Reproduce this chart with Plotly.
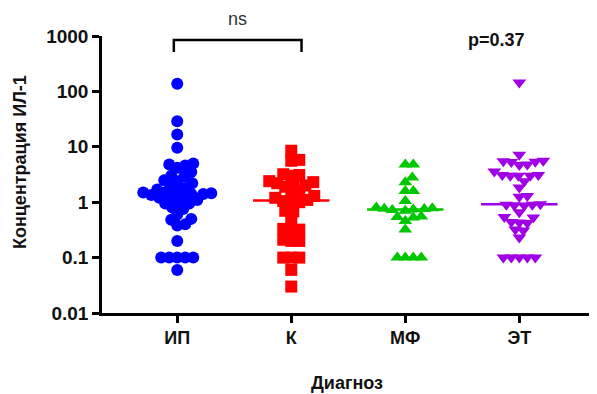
import numpy as np
import plotly.graph_objects as go

categories = ["ИП", "К", "МФ", "ЭТ"]
vals_ip = [137, 29, 16.6, 9.6, 5.0, 4.8, 4.6, 4.2, 3.5, 3.0, 2.9, 2.5, 2.4, 2.2, 2.0,
           1.8, 1.7, 1.6, 1.5, 1.5, 1.45, 1.4, 1.4, 1.35, 1.3, 1.2, 1.2, 1.1, 1.0, 0.95,
           0.95, 0.8, 0.75, 0.6, 0.5, 0.48, 0.4, 0.38, 0.2, 0.1, 0.1, 0.1, 0.1, 0.1, 0.06]
vals_k = [8.5, 5.8, 5.6, 3.2, 3.1, 3.0, 2.4, 2.3, 2.2, 2.1, 2.0, 1.9, 1.6, 1.5,
          1.3, 1.2, 1.1, 1.05, 1.0, 1.0, 0.7, 0.68, 0.49, 0.33, 0.32, 0.31,
          0.21, 0.2, 0.2, 0.1, 0.1, 0.1, 0.06, 0.03]
vals_mf = [4.8, 4.8, 2.8, 2.3, 1.6, 1.6, 1.05, 0.8, 0.78, 0.76, 0.75, 0.74, 0.72,
           0.7, 0.55, 0.54, 0.53, 0.46, 0.32, 0.1, 0.1, 0.1, 0.1]
vals_et = [145, 7.2, 5.6, 5.5, 5.4, 5.3, 4.8, 4.7, 3.6, 3.1, 3.1, 3.0, 3.0, 3.0, 2.4,
           1.85, 1.3, 1.25, 0.92, 0.9, 0.9, 0.88, 0.87, 0.66, 0.54, 0.53, 0.44, 0.43,
           0.42, 0.32, 0.31, 0.23, 0.1, 0.1, 0.1, 0.1, 0.1]
groups = [vals_ip, vals_k, vals_mf, vals_et]
colors = ["#0000FF", "#FF0000", "#00C800", "#A000E6"]
symbols = ["circle", "square", "triangle-up", "triangle-down"]
ytickvals = [0.01, 0.1, 1, 10, 100, 1000]
yticktext = ["0.01", "0.1", "1", "10", "100", "1000"]

PX_X = 114.0      # px per category unit
PX_DEC = 55.4     # px per decade
DIAM = 8.0


def beeswarm(values):
    ys = np.log10(np.asarray(values, dtype=float)) * PX_DEC
    order = np.argsort(ys)
    placed = []
    offs = np.zeros(len(ys))
    for idx in order:
        y = ys[idx]
        for k in range(0, 400):
            cand = (k + 1) // 2 * (1 if k % 2 else -1) * 1.0
            ok = True
            for (px, py) in placed:
                if (px - cand) ** 2 + (py - y) ** 2 < DIAM ** 2:
                    ok = False
                    break
            if ok:
                offs[idx] = cand
                placed.append((cand, y))
                break
    return offs / PX_X


FONT = "Liberation Sans, Arial"
fig = go.Figure()
for i, vals in enumerate(groups):
    xs = i + beeswarm(vals)
    fig.add_trace(go.Scatter(
        x=xs, y=vals, mode="markers",
        marker=dict(symbol=symbols[i], size=12, color=colors[i], line=dict(width=0)),
        showlegend=False))
    med = float(np.median(vals))
    fig.add_trace(go.Scatter(
        x=[i - 0.335, i + 0.335], y=[med, med], mode="lines",
        line=dict(color=colors[i], width=2.5), showlegend=False))

fig.add_shape(type="path", xref="x", yref="paper",
              path="M -0.03,0.942 L -0.03,0.986 L 1.09,0.986 L 1.09,0.942",
              line=dict(color="black", width=2.5))
fig.add_annotation(x=0.53, y=1.061, xref="x", yref="paper", text="ns", showarrow=False,
                   xanchor="center", yanchor="middle",
                   font=dict(size=18, color="#333333", family=FONT))
fig.add_annotation(x=2.8, y=0.986, xref="x", yref="paper", text="<b>p=0.37</b>",
                   showarrow=False, xanchor="center", yanchor="middle",
                   font=dict(size=18, color="#111111", family=FONT))
fig.add_annotation(x=-0.168, y=0.545, xref="paper", yref="paper",
                   text="<b>Концентрация ИЛ-1</b>", textangle=-90, showarrow=False,
                   xanchor="center", yanchor="middle",
                   font=dict(size=18, color="#111111", family=FONT))
fig.add_annotation(x=0.502, y=-0.253, xref="paper", yref="paper",
                   text="<b>Диагноз</b>", showarrow=False,
                   xanchor="center", yanchor="middle",
                   font=dict(size=18, color="#111111", family=FONT))

fig.update_layout(
    width=597, height=394,
    margin=dict(l=94, r=15, t=28, b=89, autoexpand=False),
    paper_bgcolor="white", plot_bgcolor="white",
    font=dict(family=FONT, color="#111111"),
    xaxis=dict(range=[-0.66, 3.62], tickvals=[0, 1, 2, 3],
               ticktext=["<b>%s</b>" % c for c in categories],
               showline=True, linecolor="black", linewidth=2.5,
               ticks="outside", ticklen=7, tickwidth=2.5, tickcolor="black",
               showgrid=False, zeroline=False, tickfont=dict(size=18)),
    yaxis=dict(type="log", range=[-2, 3], tickvals=ytickvals,
               ticktext=["<b>%s</b>" % t for t in yticktext],
               showline=True, linecolor="black", linewidth=2.5,
               ticks="outside", ticklen=7, tickwidth=2.5, tickcolor="black",
               showgrid=False, zeroline=False, tickfont=dict(size=19)),
)
fig.write_html("out.html")
